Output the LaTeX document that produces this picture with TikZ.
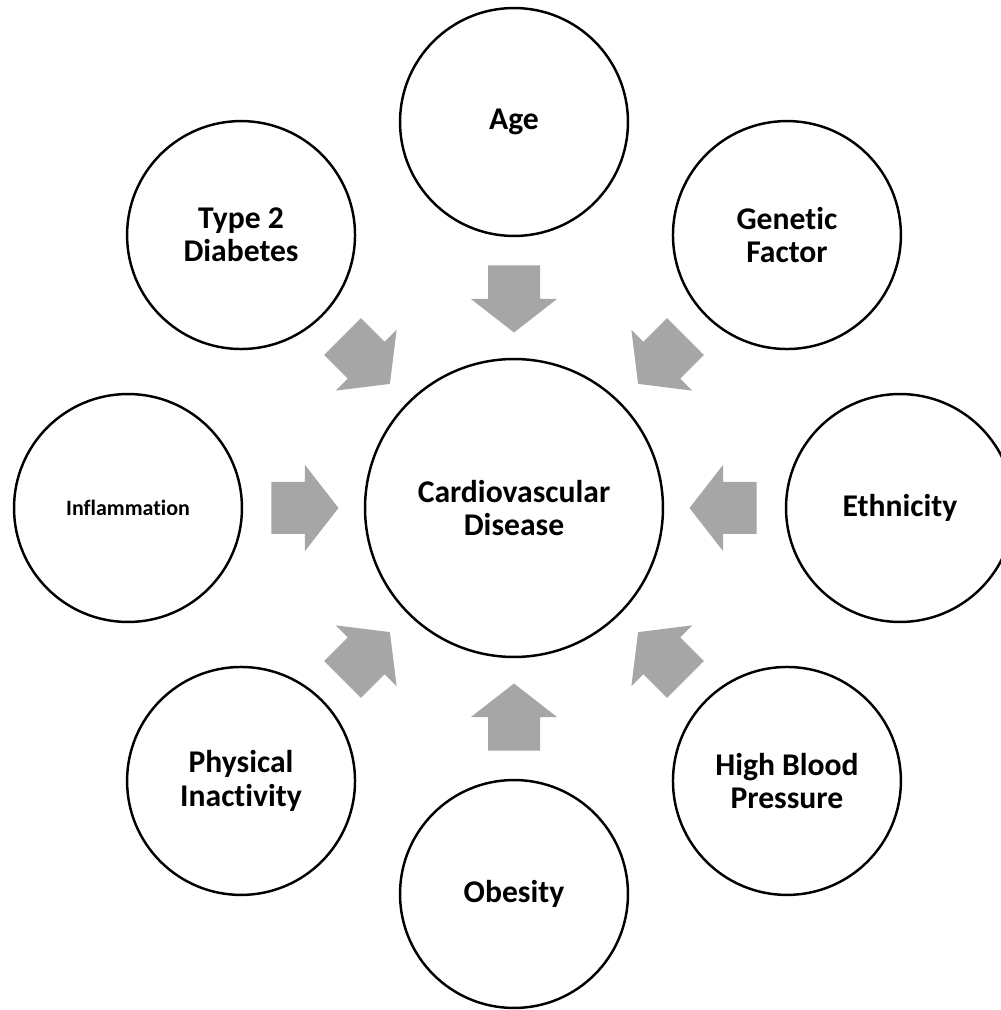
\documentclass[tikz,border=0pt]{standalone}
\usepackage{fontspec}
\setmainfont{Carlito}[Ligatures={NoCommon}]
\usepackage{xcolor}
\usepackage{tikz}
\definecolor{ink}{HTML}{000000}
\definecolor{arrowgray}{HTML}{A6A6A6}
\tikzset{
  factor/.style={
    circle,
    draw=ink,
    line width=1.4pt,
    minimum size=4.56cm,
    inner sep=0pt,
    align=center,
    font=\bfseries\fontsize{18}{19}\selectfont
  },
  disease/.style={factor, minimum size=5.96cm},
  push/.style={fill=arrowgray, draw=none}
}

\begin{document}
\begin{tikzpicture}[x=0.02cm, y=0.02cm]
  \useasboundingbox (-514,-502) rectangle (486,508);
  \node[disease] (cvd) at (0,0) {Cardiovascular\\Disease};

  \node[factor] (age) at (90:386) {Age};
  \node[factor] (gen) at (45:386) {Genetic\\Factor};
  \node[factor] (eth) at (0:386) {Ethnicity};
  \node[factor] (hbp) at (-45:386) {High Blood\\Pressure};
  \node[factor] (obe) at (-90:386) {Obesity};
  \node[factor] (phy) at (-135:386) {Physical\\Inactivity};
  \node[factor] (inf) at (180:386) {\fontsize{12.5}{14}\selectfont Inflammation};
  \node[factor] (t2d) at (135:386) {Type 2\\Diabetes};

  % block arrows pointing in to the disease
  \foreach \a in {0,45,...,315}
    \fill[push, shift={(\a:209)}, rotate=\a+180]
      (-33.5,-26) -- (0,-26) -- (0,-43) -- (33.5,0) -- (0,43) -- (0,26) -- (-33.5,26) -- cycle;
\end{tikzpicture}
\end{document}
